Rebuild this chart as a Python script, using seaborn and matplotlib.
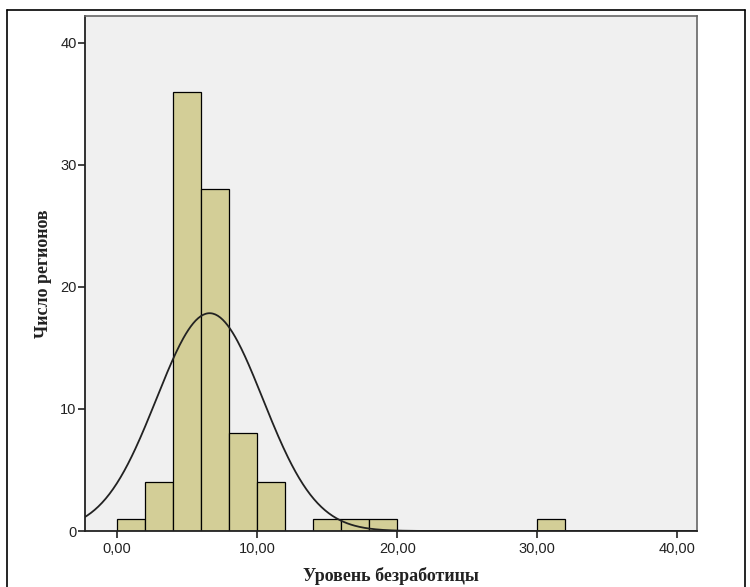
import numpy as np
import matplotlib
matplotlib.use("Agg")
import matplotlib.pyplot as plt
import seaborn as sns
from matplotlib.lines import Line2D

# Data (bin width 2)
bin_edges = [0, 2, 4, 6, 8, 10, 12, 14, 16, 18, 20, 22, 24, 26, 28, 30, 32]
counts = [1, 4, 36, 28, 8, 4, 0, 1, 1, 1, 0, 0, 0, 0, 0, 1]
curve_mean = 6.6
curve_sd = 3.8
x_ticks = [0, 10, 20, 30, 40]
x_ticklabels = ["0,00", "10,00", "20,00", "30,00", "40,00"]
y_ticks = [0, 10, 20, 30, 40]
x_label = "Уровень безработицы"
y_label = "Число регионов"

sns.set_style("white")
plt.rcParams['font.family'] = ['Liberation Sans', 'DejaVu Sans']

fig = plt.figure(figsize=(7.5, 5.87), dpi=100)
ax = fig.add_axes([0.1133, 0.0954, 0.816, 0.8773])
ax.set_facecolor("#F0F0F0")

centers = [(bin_edges[i] + bin_edges[i + 1]) / 2 for i in range(len(counts))]
sns.histplot(x=centers, weights=counts, bins=bin_edges, ax=ax,
             color="#D3CE97", alpha=1.0, edgecolor="black", linewidth=0.9)

n_total = sum(counts)
width = bin_edges[1] - bin_edges[0]
xs = np.linspace(-2.4, 41.5, 500)
ys = n_total * width / (curve_sd * np.sqrt(2 * np.pi)) * np.exp(-0.5 * ((xs - curve_mean) / curve_sd) ** 2)
ax.plot(xs, ys, color="#222222", linewidth=1.3)

ax.set_xlim(-2.3, 41.4)
ax.set_ylim(0, 42.2)
ax.set_xticks(x_ticks)
ax.set_xticklabels(x_ticklabels)
ax.set_yticks(y_ticks)
ax.set_yticklabels([str(v) for v in y_ticks])
ax.tick_params(axis='both', direction='out', length=5, width=1.2, color="#222222",
               labelsize=10.5, labelcolor="#222222", bottom=True, left=True)
ax.tick_params(axis='x', pad=3)
ax.tick_params(axis='y', pad=1)

for side in ['left', 'bottom']:
    ax.spines[side].set_color("#222222")
    ax.spines[side].set_linewidth(1.3)
for side in ['top', 'right']:
    ax.spines[side].set_color("#666666")
    ax.spines[side].set_linewidth(1.2)
    ax.spines[side].set_visible(True)

ax.set_xlabel(x_label, fontsize=13, fontweight='bold', family=['Liberation Serif', 'DejaVu Serif'],
              color="#222222", labelpad=8)
ax.set_ylabel(y_label, fontsize=13, fontweight='bold', family=['Liberation Serif', 'DejaVu Serif'],
              color="#222222", labelpad=6)

# Outer frame of the figure (left, top, right)
fx0, fx1 = 7 / 750, 745 / 750
fy1 = 1 - 10 / 587
for xd, yd in [([fx0, fx0], [0, fy1]), ([fx0, fx1], [fy1, fy1]), ([fx1, fx1], [fy1, 0])]:
    fig.add_artist(Line2D(xd, yd, transform=fig.transFigure, color="black", linewidth=1.2))

fig.savefig("out.png", dpi=100)
